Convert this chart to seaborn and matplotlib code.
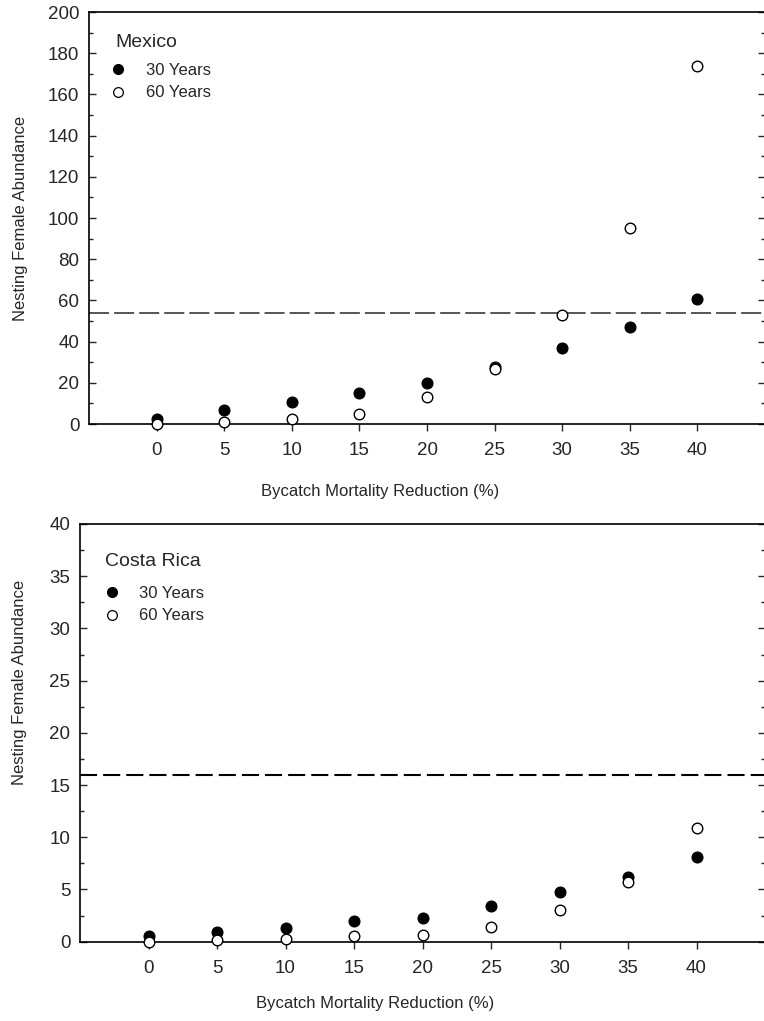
import matplotlib
matplotlib.use("Agg")
import matplotlib.pyplot as plt
import seaborn as sns
import pandas as pd
from matplotlib.ticker import MultipleLocator
from matplotlib.lines import Line2D

# Bycatch mortality reduction scenarios (%)
reduction = [0, 5, 10, 15, 20, 25, 30, 35, 40]

# Mexico: projected nesting female abundance
mexico_30 = [2.5, 7.0, 10.5, 15.0, 20.0, 27.5, 37.0, 47.0, 60.5]
mexico_60 = [0.0, 0.8, 2.2, 5.0, 13.0, 26.8, 53.0, 95.0, 174.0]
mexico_target = 54

# Costa Rica: projected nesting female abundance
costa_30 = [0.5, 0.95, 1.35, 1.95, 2.25, 3.45, 4.8, 6.2, 8.1]
costa_60 = [0.0, 0.15, 0.25, 0.5, 0.65, 1.4, 3.05, 5.75, 10.9]
costa_target = 16

series_labels = ["30 Years", "60 Years"]

sns.set_style("white")
plt.rcParams["font.family"] = ["Liberation Sans", "DejaVu Sans"]
plt.rcParams["font.size"] = 12

fig = plt.figure(figsize=(7.64, 10.21), dpi=100)
ax_top = fig.add_axes([89 / 764, 1 - 424 / 1021, (765 - 89) / 764, (424 - 12) / 1021])
ax_bot = fig.add_axes([80 / 764, 1 - 941.7 / 1021, (765 - 80) / 764, (941.7 - 524) / 1021])


def draw_panel(ax, y30, y60, target, region, ymax, major, minor, dash,
               title_xy, legend_xy, xlabel_xy, ylabel_xy):
    df = pd.DataFrame({
        "reduction": reduction * 2,
        "abundance": y30 + y60,
        "period": [series_labels[0]] * len(reduction) + [series_labels[1]] * len(reduction),
    })
    ax.axhline(target, color=dash[0], lw=dash[1], dashes=dash[2], zorder=1)
    sns.scatterplot(data=df[df.period == series_labels[0]], x="reduction", y="abundance",
                    ax=ax, color="black", edgecolor="black", s=62, linewidth=0.8,
                    legend=False, zorder=3, clip_on=False)
    sns.scatterplot(data=df[df.period == series_labels[1]], x="reduction", y="abundance",
                    ax=ax, color="white", edgecolor="black", s=58, linewidth=1.0,
                    legend=False, zorder=4, clip_on=False)
    ax.set_xlim(-5, 45)
    ax.set_ylim(0, ymax)
    ax.set_xticks(reduction)
    ax.yaxis.set_major_locator(MultipleLocator(major))
    ax.yaxis.set_minor_locator(MultipleLocator(minor))
    ax.tick_params(axis="y", which="major", direction="in", length=5, width=1,
                   left=True, right=True, labelsize=13.5, pad=7)
    ax.tick_params(axis="y", which="minor", direction="in", length=3, width=1,
                   left=True, right=True)
    ax.tick_params(axis="x", which="major", direction="out", length=5, width=1,
                   bottom=True, top=False, labelsize=13.5, pad=8)
    for side, sp in ax.spines.items():
        sp.set_visible(True)
        sp.set_color("black")
        sp.set_linewidth(1.2)
    ax.set_xlabel("Bycatch Mortality Reduction (%)", fontsize=12, va="center")
    ax.xaxis.set_label_coords(*xlabel_xy)
    ax.set_ylabel("Nesting Female Abundance", fontsize=12, va="center")
    ax.yaxis.set_label_coords(*ylabel_xy)

    ax.text(title_xy[0], title_xy[1], region, transform=ax.transAxes,
            fontsize=14, ha="left", va="center")
    handles = [
        Line2D([], [], marker="o", ls="none", mfc="black", mec="black", ms=7),
        Line2D([], [], marker="o", ls="none", mfc="white", mec="black", ms=7, mew=0.9),
    ]
    ax.legend(handles, series_labels, loc="upper left", bbox_to_anchor=legend_xy,
              frameon=False, fontsize=12, handlelength=1.0, handletextpad=1.15,
              labelspacing=0.45, borderaxespad=0.0)


draw_panel(ax_top, mexico_30, mexico_60, mexico_target, "Mexico", 200, 20, 10,
           ("#555555", 1.4, (10.3, 2.6)),
           title_xy=(0.0385, 0.927), legend_xy=(0.0212, 0.8927),
           xlabel_xy=(0.4305, -0.165), ylabel_xy=(-0.102, 0.5))
draw_panel(ax_bot, costa_30, costa_60, costa_target, "Costa Rica", 40, 5, 2.5,
           ("black", 1.5, (8.2, 2.9)),
           title_xy=(0.0365, 0.9114), legend_xy=(0.0248, 0.8678),
           xlabel_xy=(0.4307, -0.1468), ylabel_xy=(-0.0876, 0.62))

fig.savefig("out.png", dpi=100)
